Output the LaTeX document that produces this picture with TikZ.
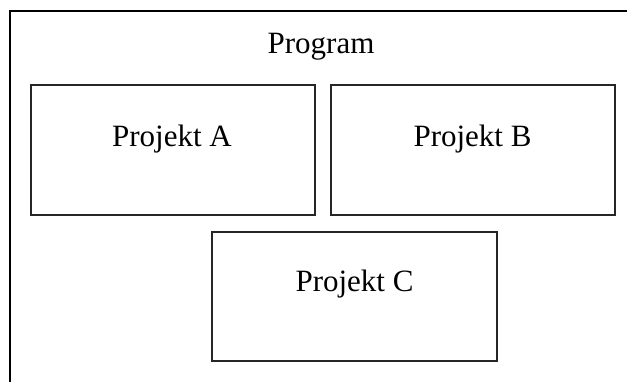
\documentclass[tikz,border=0pt]{standalone}
\usepackage{fontspec}
\setmainfont{Liberation Serif}
\begin{document}
\begin{tikzpicture}[x=1pt,y=1pt,
  box/.style={draw=black!85, line width=1.1pt, rectangle, inner sep=0pt, outer sep=0pt, minimum width=284pt, minimum height=130pt},
  lbl/.style={anchor=base, inner sep=0pt, font=\fontsize{31}{36}\selectfont}]
\useasboundingbox (0,0) rectangle (627,-381);
\coordinate (fbl) at (10,-382);
\coordinate (ftl) at (10,-11);
\coordinate (ftr) at (628,-11);
\draw[line width=2pt, black] (fbl) -- (ftl) -- (ftr);
\node[lbl] (prog) at (321,-53) {Program};
\node[box] (a) at (173,-150) {};
\node[box] (b) at (473,-150) {};
\node[box, minimum width=285pt, minimum height=129pt] (c) at (354.5,-296.5) {};
\node[lbl] (ta) at (172,-146) {Projekt A};
\node[lbl] (tb) at (472.5,-146) {Projekt B};
\node[lbl] (tc) at (354.5,-291) {Projekt C};
\end{tikzpicture}
\end{document}
